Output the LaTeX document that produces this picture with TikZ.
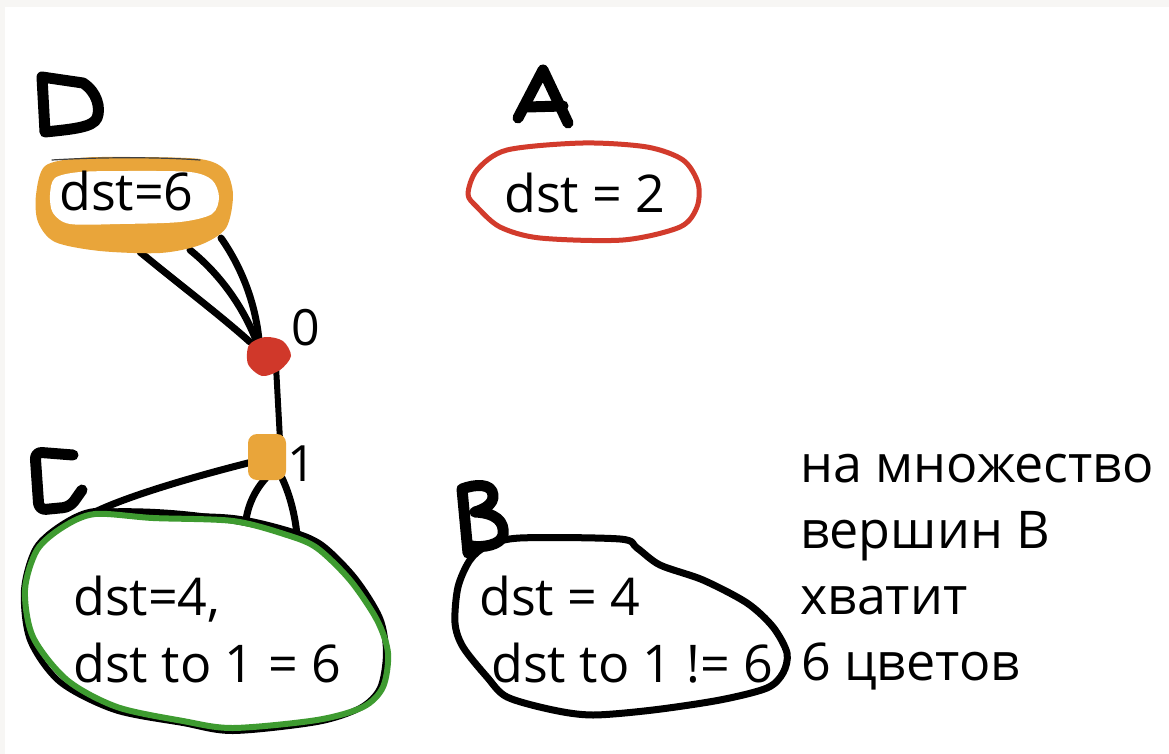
\documentclass[tikz,border=0pt]{standalone}
\usepackage{fontspec}
\setmainfont{Open Sans}
\definecolor{bordergray}{HTML}{F7F6F4}
\definecolor{ringorange}{HTML}{E9A53A}
\definecolor{blobred}{HTML}{D0382A}
\definecolor{ringred}{HTML}{D23B2C}
\definecolor{ringgreen}{HTML}{3E9B30}
\begin{document}
\begin{tikzpicture}[x=1pt,y=-1pt,line cap=round,line join=round,
  lbl/.style={inner sep=0pt,anchor=base west,font=\fontsize{52}{66}\selectfont},
  numlbl/.style={inner sep=0pt,anchor=base,font=\fontsize{50}{60}\selectfont},
  handletter/.style={line width=11pt,black},
  edgeline/.style={line width=7pt,black},
  outline/.style={line width=6pt}]
\useasboundingbox (0,0) rectangle (1169,754);
\fill[bordergray] (0,0) rectangle (1169,754);
\fill[white] (5,7) rectangle (1169,754);

% ---------- hand-drawn letters ----------
\draw[handletter] (45,132) -- (42,77) -- (83,83) .. controls (97,92) and (101,108) .. (97,118) .. controls (93,127) and (75,129) .. (45,132);
\draw[handletter] (518,118) -- (543,70) -- (568,123);
\draw[handletter] (527,107) -- (563,106);
\draw[handletter,rounded corners=7] (73,455) -- (35,452) -- (39,510) -- (70,507) -- (82,490);
\draw[handletter] (468,553) -- (462,489) .. controls (475,484) and (492,483) .. (493,495) .. controls (494,505) and (482,510) .. (475,512) .. controls (495,513) and (505,521) .. (503,535) .. controls (501,545) and (483,548) .. (471,546);

% ---------- named points ----------
\coordinate (n0) at (268,356);
\coordinate (d1) at (140,252);
\coordinate (d2) at (190,250);
\coordinate (d3) at (221,238);
\coordinate (n0a) at (250,342);
\coordinate (n0b) at (256,340);
\coordinate (n0c) at (259,340);
\coordinate (n0s) at (276,366);
\coordinate (n1n) at (280,440);
\coordinate (n1w) at (252,462);
\coordinate (n1sw) at (266,478);
\coordinate (n1se) at (282,478);
\coordinate (ctl) at (95,512);
\coordinate (ctm) at (246,520);
\coordinate (ctr) at (297,535);

% ---------- connectors ----------
\draw[edgeline] (d1) .. controls (180,285) and (220,315) .. (n0a);
\draw[edgeline] (d2) .. controls (215,270) and (240,300) .. (n0b);
\draw[edgeline] (d3) .. controls (240,265) and (255,300) .. (n0c);
\draw[line width=6pt] (n0s) -- (n1n);
\draw[edgeline] (n1w) .. controls (200,475) and (130,495) .. (ctl);
\draw[edgeline] (n1sw) .. controls (255,490) and (248,505) .. (ctm);
\draw[edgeline] (n1se) .. controls (290,495) and (295,515) .. (ctr);
\draw[line width=6pt] (ctl) .. controls (150,509) and (220,514) .. (ctr);

% ---------- D ring ----------
\fill[ringorange] plot[smooth cycle] coordinates {(36,195) (45,166) (80,158) (130,157) (200,159) (225,170) (233,195) (226,228) (200,245) (160,253) (100,251) (55,242) (38,222)};
\fill[white] plot[smooth cycle] coordinates {(50,195) (55,178) (80,172) (130,171) (190,172) (212,180) (219,197) (212,214) (180,222) (120,224) (70,224) (53,213)};
\draw[black!75,line width=1.2pt] (52,160) .. controls (100,157) and (160,157) .. (200,160);
\node[lbl] (textD) at (59,210) {dst=6};

% ---------- A ring ----------
\draw[ringred,line width=5pt] plot[smooth cycle] coordinates {(468,194) (477,170) (507,150) (583,143) (647,147) (683,160) (698,183) (697,207) (680,227) (623,240) (540,238) (500,227) (477,207)};
\node[lbl] (textA) at (504,212) {dst = 2};

% ---------- C blob ----------
\draw[black,outline] plot[smooth cycle] coordinates {(95,511) (153,515) (233,518) (290,531) (322,545) (355,578) (380,618) (386,653) (380,688) (360,708) (317,722) (233,731) (183,723) (115,710) (60,682) (30,640) (24,590) (36,548) (63,524)};
\draw[ringgreen,outline] plot[smooth cycle] coordinates {(95,514) (153,518) (233,521) (287,535) (317,548) (350,580) (377,620) (388,653) (383,687) (363,707) (317,720) (233,728) (183,721) (117,707) (67,680) (33,637) (25,590) (37,550) (63,527)};
\node[lbl] (textC1) at (73,615) {dst=4,};
\node[lbl] (textC2) at (73,682) {dst to 1 = 6};

% ---------- B blob ----------
\draw[black,line width=7pt] plot[smooth cycle] coordinates {(470,560) (487,546) (520,538) (620,539) (637,548) (660,565) (703,580) (747,603) (773,627) (787,653) (783,673) (767,688) (720,700) (653,710) (593,715) (553,710) (507,697) (487,677) (463,647) (455,623) (458,587)};
\node[lbl] (textB1) at (479,615) {dst = 4};
\node[lbl] (textB2) at (491,682) {dst to 1 != 6};

% ---------- vertices ----------
\fill[blobred] plot[smooth cycle] coordinates {(249,345) (265,337) (283,341) (291,356) (280,370) (262,376) (248,364)};
\node[fill=ringorange,rounded corners=9pt,minimum width=38pt,minimum height=46pt,inner sep=0pt] (n1) at (267,457) {};
\node[numlbl] (lab0) at (306,345) {0};
\node[numlbl] (lab1) at (302,481) {1};

% ---------- note ----------
\node[lbl] (note1) at (800,482) {на множество};
\node[lbl] (note2) at (800,548) {вершин В};
\node[lbl] (note3) at (800,614) {хватит};
\node[lbl] (note4) at (801,680) {6 цветов};
\end{tikzpicture}
\end{document}
